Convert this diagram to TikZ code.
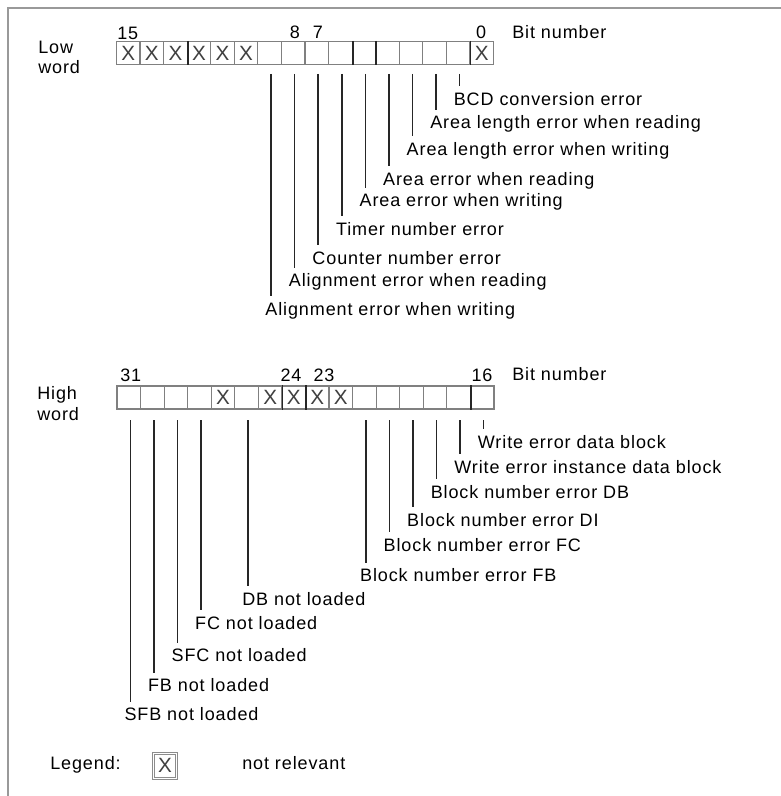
\documentclass[tikz,border=0pt]{standalone}
\usepackage{fontspec}
\setmainfont{Liberation Sans}[LetterSpace=5]
\usepackage{xcolor}
\usepackage{tikz}
\usetikzlibrary{positioning}

\begin{document}
\begin{tikzpicture}[x=0.75pt, y=-0.75pt, font=\fontsize{13.5}{16}\selectfont]
    \tikzstyle{cell} = [rectangle, draw=black!50, line width=0.9pt, minimum width=17.67pt, minimum height=17.25pt, inner sep=0pt]
    \tikzstyle{xmark} = [inner sep=0pt, text=black!75, font=\fontsize{15.5}{16}\selectfont]
    \tikzstyle{lbl} = [anchor=base west, inner xsep=0pt, inner ysep=4pt, text height=10pt, text depth=3pt]
    \tikzstyle{leader} = [draw=black!85, line width=1.1pt]
    \tikzstyle{divider} = [draw=black!85, line width=1.4pt]
    \tikzstyle{txt} = [anchor=base west, inner sep=0pt]
    \tikzstyle{num} = [anchor=base, inner sep=0pt]

    \useasboundingbox (0,0) rectangle (781,796);
    \draw[black!40, line width=1.5pt] (7.5,796) -- (7.5,7.5) -- (781,7.5);

    % low word
    \node (lowa) [txt] at (38,53.3) {Low};
    \node (lowb) [txt] at (38,73.3) {word};
    \foreach \c in {0,...,15}
        \node (lo\c) [cell] at ({116.5+(\c+0.5)*23.56},53) {};
    \foreach \c in {0,...,5,15}
        \node (xlo\c) [xmark] at (lo\c) {X};
    \foreach \c in {2,9,10,14}
        \draw[divider] (lo\c.north east) -- (lo\c.south east);
    \node (n15) [txt] at (117,39) {15};
    \node (n8) [num] at (295,38.5) {8};
    \node (n7) [num] at (318,38.5) {7};
    \node (n0) [num] at (481,38.5) {0};
    \node (bitlo) [txt] at (512,38.5) {Bit number};

    \foreach \c/\y/\t in {14/105/BCD conversion error, 13/128.5/Area length error when reading,
        12/155/Area length error when writing, 11/185/Area error when reading,
        10/206.5/Area error when writing, 9/235/Timer number error, 8/264/Counter number error,
        7/286.5/Alignment error when reading, 6/315/Alignment error when writing} {
        \coordinate (tlo\c) at ([xshift=1.1pt, yshift=-6.5pt]lo\c.south);
        \node (llo\c) [lbl, xshift=-4.5pt] at (tlo\c |- 0,\y) {\t};
        \draw[leader] (tlo\c) -- (tlo\c |- llo\c.north);
    }

    % high word
    \node (higha) [txt] at (37,399.3) {High};
    \node (highb) [txt] at (37,420.7) {word};
    \foreach \c in {0,...,15}
        \node (hi\c) [cell] at ({117+(\c+0.5)*23.56},397.5) {};
    \foreach \c in {4,6,7,8,9}
        \node (xhi\c) [xmark] at (hi\c) {X};
    \foreach \c in {6,7,14}
        \draw[divider] (hi\c.north east) -- (hi\c.south east);
    \node (n31) [txt] at (120,381.5) {31};
    \node (n24) [num] at (291,381.5) {24};
    \node (n23) [num] at (324,381.5) {23};
    \node (n16) [num] at (482,381.5) {16};
    \node (bithi) [txt] at (512,380) {Bit number};

    \foreach \c/\y/\t in {15/448/Write error data block, 14/473/Write error instance data block,
        13/498/Block number error DB, 12/526/Block number error DI, 11/551/Block number error FC,
        10/581.5/Block number error FB, 5/605/DB not loaded, 3/629/FC not loaded,
        2/661.5/SFC not loaded, 1/691.5/FB not loaded, 0/720.5/SFB not loaded} {
        \coordinate (thi\c) at ([xshift=1.1pt, yshift=-8pt]hi\c.south);
        \node (lhi\c) [lbl, xshift=-4.5pt] at (thi\c |- 0,\y) {\t};
        \draw[leader] (thi\c) -- (thi\c |- lhi\c.north);
    }

    % legend
    \node (leg) [txt] at (50,769.3) {Legend:};
    \node (legbox) [cell, minimum height=18.75pt, double=white, double distance=0.6pt, draw=black!45] at (165,765.8) {};
    \node (legx) [xmark] at (legbox) {X};
    \node (legtxt) [txt] at (242,769) {not relevant};
\end{tikzpicture}
\end{document}
